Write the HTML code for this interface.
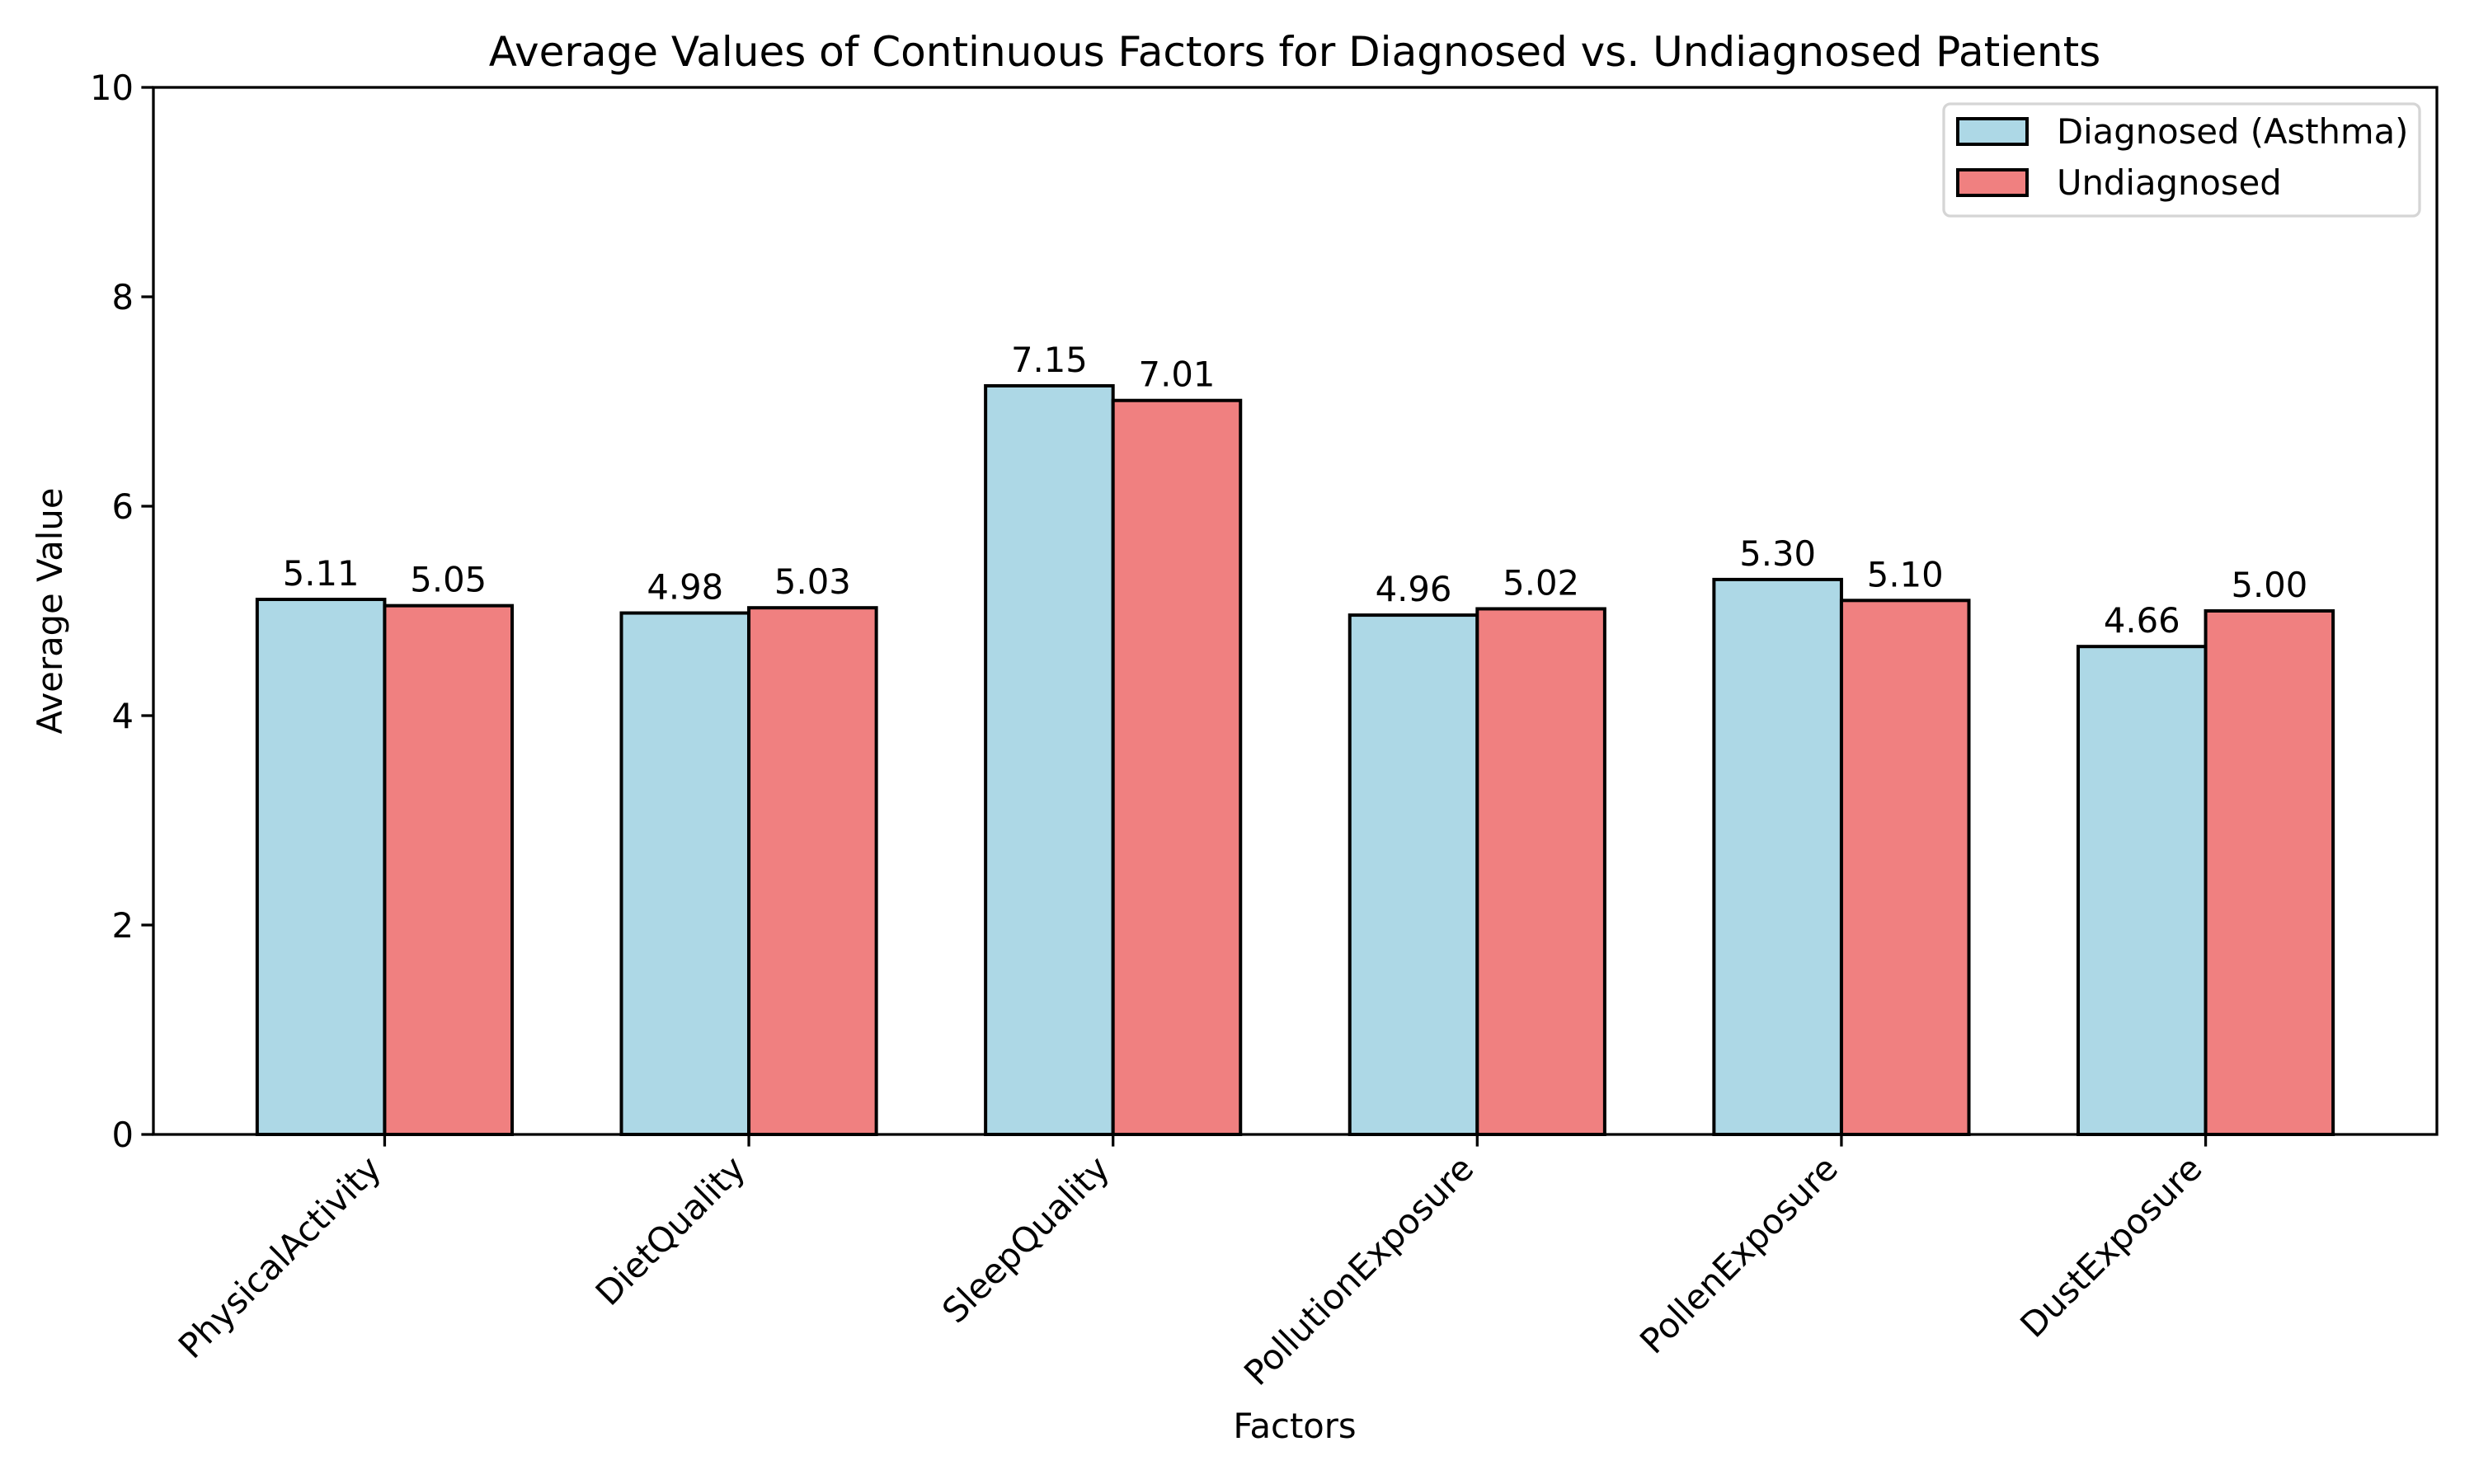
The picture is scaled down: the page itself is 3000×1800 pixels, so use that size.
<!DOCTYPE html>
<html><head><meta charset="utf-8"><style>
html,body{margin:0;padding:0;background:#fff}
svg{display:block}
text{font-family:"DejaVu Sans","Liberation Sans",sans-serif;fill:#000}
</style></head><body>
<svg id="chart" width="3000" height="1800" viewBox="0 0 3000 1800" xmlns="http://www.w3.org/2000/svg">
<rect width="3000" height="1800" fill="#fff"/>
<text x="1570" y="80" font-size="50" text-anchor="middle">Average Values of Continuous Factors for Diagnosed vs. Undiagnosed Patients</text>
<g id="bars"></g>
<g id="yticks"></g>
<g id="xticks"></g>
<rect x="186" y="106" width="2769" height="1270" fill="none" stroke="#000" stroke-width="3.3"/>
<text transform="translate(75,741) rotate(-90)" font-size="41.7" text-anchor="middle">Average Value</text>
<text x="1570" y="1744" font-size="41.7" text-anchor="middle">Factors</text>
<g>
<rect x="2357" y="126" width="577" height="136" rx="8" fill="#fff" fill-opacity="0.8" stroke="#d5d5d5" stroke-width="3.3"/>
<rect x="2374" y="144" width="84" height="31" fill="#add8e6" stroke="#000" stroke-width="4"/>
<text x="2494" y="174" font-size="41.7">Diagnosed (Asthma)</text>
<rect x="2374" y="206" width="84" height="31" fill="#f08080" stroke="#000" stroke-width="4"/>
<text x="2494" y="236" font-size="41.7">Undiagnosed</text>
</g>
</svg>
<script>
const categories = ["PhysicalActivity","DietQuality","SleepQuality","PollutionExposure","PollenExposure","DustExposure"];
const diagnosed = [5.11,4.98,7.15,4.96,5.30,4.66];
const undiagnosed = [5.05,5.03,7.01,5.02,5.10,5.00];
const yTicks = [0,2,4,6,8,10];

const NS = "http://www.w3.org/2000/svg";
const L=186, R=2955, T=106, B=1376;
const xMin=-0.635, xMax=5.635, yMin=0, yMax=10;
const xs = v => L + (v - xMin) / (xMax - xMin) * (R - L);
const ys = v => B - (v - yMin) / (yMax - yMin) * (B - T);
const W = 0.35;
function mk(tag, attrs, parent){const e=document.createElementNS(NS,tag);for(const k in attrs)e.setAttribute(k,attrs[k]);parent.appendChild(e);return e;}
const gb=document.getElementById('bars'), gy=document.getElementById('yticks'), gx=document.getElementById('xticks');
const series=[{vals:diagnosed,off:-W/2,fill:"#add8e6",n:"diagnosed"},{vals:undiagnosed,off:W/2,fill:"#f08080",n:"undiagnosed"}];
categories.forEach((c,i)=>{
  series.forEach(s=>{
    const x0=xs(i+s.off-W/2), x1=xs(i+s.off+W/2), y=ys(s.vals[i]);
    const r=mk('rect',{x:x0,y:y,width:x1-x0,height:B-y,fill:s.fill,stroke:"#000","stroke-width":4},gb);
    
    
    const t=mk('text',{x:(x0+x1)/2,y:y-17,"font-size":41.7,"text-anchor":"middle"},gb);
    t.textContent=s.vals[i].toFixed(2);
    
    
  });
  const x=xs(i);
  mk('line',{x1:x,x2:x,y1:B,y2:B+14.6,stroke:"#000","stroke-width":3.3},gx);
  const t=mk('text',{transform:`translate(${x-2},${1420}) rotate(-45)`,"font-size":41.7,"text-anchor":"end"},gx);
  t.textContent=c;
  
  
});
yTicks.forEach(v=>{
  const y=ys(v);
  mk('line',{x1:L-14.6,x2:L,y1:y,y2:y,stroke:"#000","stroke-width":3.3},gy);
  const t=mk('text',{x:L-24,y:y+15,"font-size":41.7,"text-anchor":"end"},gy);
  t.textContent=v;
  
  
});
</script>
</body></html>
